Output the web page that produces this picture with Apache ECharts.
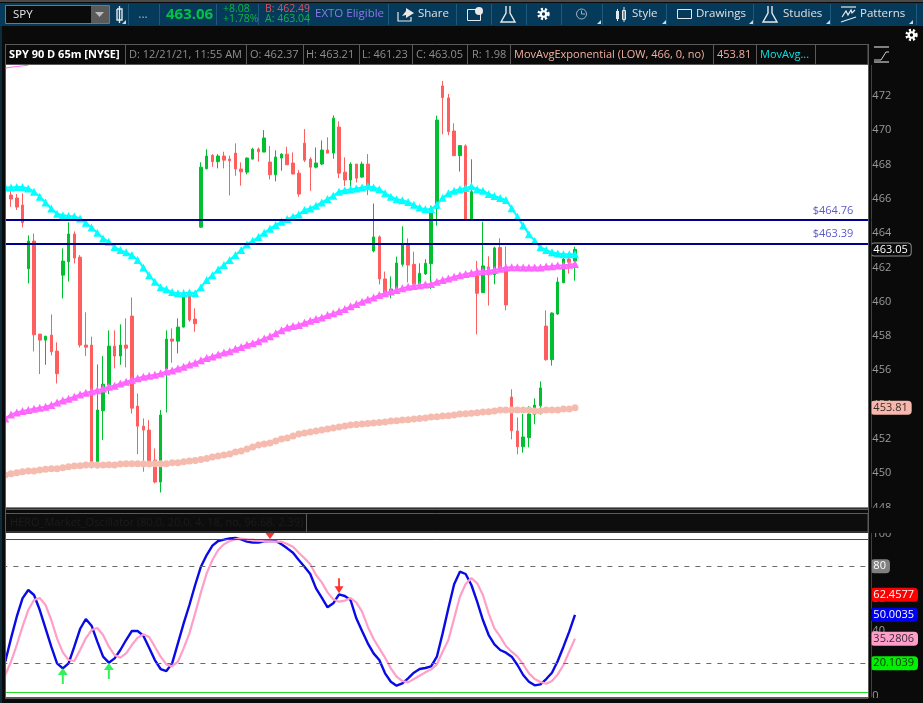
<!DOCTYPE html>
<html>
<head>
<meta charset="utf-8">
<title>SPY 90 D 65m</title>
<script src="https://cdn.jsdelivr.net/npm/echarts@6/dist/echarts.min.js"></script>
<style>
  html, body { margin: 0; padding: 0; background: #0a0a0a; }
  #chart { width: 923px; height: 703px; }
</style>
</head>
<body>
<div id="chart"></div>
<script>
// candles
const opens = [
  466.22,466.05,465.64,461.92,463.54,458.11,457.76,458.05,457.12,461.55,
  462.33,463.95,462.60,457.47,457.47,450.57,453.64,455.14,457.41,456.83,
  457.47,459.16,453.91,452.74,452.51,450.76,449.48,456.07,457.82,457.70,
  458.52,460.48,458.99,464.35,467.76,468.54,468.17,468.50,468.32,468.67,
  467.74,467.56,468.32,468.90,468.73,468.15,467.41,468.38,468.61,468.09,
  467.50,469.25,468.32,467.85,468.03,468.85,468.67,470.19,467.56,467.10,
  468.03,467.27,468.03,462.96,463.78,461.33,460.59,460.69,462.18,463.31,
  462.18,460.98,461.62,462.22,465.45,472.59,471.89,469.96,468.52,469.09,
  464.83,461.52,460.53,462.03,461.58,463.16,461.85,454.44,452.46,451.54,
  452.07,453.43,453.93,458.58,456.62,459.28,461.11,462.49,462.37
];
const closes = [
  465.99,465.52,464.61,463.54,458.07,457.76,457.99,457.08,455.80,462.37,
  463.95,462.55,457.47,457.35,450.57,453.68,455.19,457.41,456.83,457.47,
  457.29,453.79,452.74,452.51,450.66,449.48,453.39,457.82,457.70,458.52,
  460.48,458.93,458.71,467.85,468.50,468.17,468.50,468.26,468.22,467.74,
  467.58,468.38,468.90,468.75,469.55,467.41,468.44,468.61,467.99,467.45,
  466.28,468.26,467.85,468.09,468.85,468.67,470.71,467.50,467.10,468.03,
  467.21,468.03,466.61,463.78,461.33,460.43,460.74,462.26,463.31,462.14,
  461.02,461.66,462.24,465.45,470.60,471.91,469.92,468.52,469.11,464.83,
  466.42,460.49,462.09,461.56,463.14,461.76,459.81,452.48,451.54,452.11,
  453.45,453.97,454.97,456.62,459.34,461.15,462.49,462.30,463.05
];
const lows = [
  465.54,465.35,464.33,461.07,457.10,455.78,456.32,456.87,455.23,460.19,
  461.18,462.23,457.33,456.83,450.27,450.27,451.93,454.61,456.11,456.32,
  456.17,453.48,451.11,450.08,450.41,449.40,448.87,453.54,456.44,456.98,
  458.50,458.83,458.25,464.31,467.72,467.87,467.78,467.78,466.20,467.35,
  466.77,467.43,468.30,468.17,468.73,467.13,467.02,467.64,467.97,467.43,
  466.12,468.15,466.47,467.78,467.97,468.67,468.34,467.21,466.75,466.71,
  466.96,467.23,466.22,462.88,461.01,460.39,460.20,460.63,462.05,461.13,
  460.88,460.94,461.56,460.74,464.44,469.77,469.71,468.52,467.59,464.80,
  464.80,458.10,460.53,459.77,461.02,461.76,459.50,451.97,451.10,451.19,
  451.50,452.85,453.41,456.56,456.27,459.24,461.08,461.64,461.23
];
const highs = [
  466.51,466.28,466.32,463.87,463.98,458.11,457.99,459.26,457.63,463.11,
  464.63,464.10,462.72,459.38,457.96,456.34,456.83,458.33,458.33,458.68,
  459.03,460.25,454.65,453.19,453.09,451.44,453.68,458.33,458.44,459.03,
  460.70,460.60,459.61,468.13,468.89,468.61,468.61,468.75,468.52,469.24,
  468.13,468.42,468.98,469.00,470.01,469.08,468.83,468.67,469.04,468.71,
  467.68,470.07,468.42,469.00,469.41,469.59,470.87,470.52,468.42,468.13,
  468.03,468.17,468.61,465.73,463.87,461.76,461.48,462.63,464.40,463.70,
  462.92,462.24,462.48,465.60,470.86,472.88,472.12,470.41,469.11,469.18,
  468.31,462.38,464.67,462.65,463.21,463.70,463.23,454.89,453.25,453.45,
  453.92,454.36,455.35,459.50,459.38,461.42,462.60,462.55,463.21
];

// moving averages: these start one bar before the first visible candle
const cyanAvg = [
  466.67,466.67,466.69,466.69,466.61,466.42,466.12,465.79,465.44,465.13,
  465.04,465.00,464.98,464.86,464.61,464.33,464.02,463.69,463.50,463.19,
  463.01,462.88,462.72,462.43,462.00,461.55,461.16,460.85,460.72,460.56,
  460.50,460.50,460.54,460.50,460.85,461.26,461.55,461.88,462.14,462.43,
  462.72,463.01,463.34,463.56,463.77,464.02,464.26,464.47,464.67,464.82,
  464.96,465.09,465.35,465.44,465.60,465.79,465.99,466.18,466.42,466.51,
  466.55,466.61,466.67,466.73,466.67,466.56,466.33,466.13,465.98,465.92,
  465.82,465.65,465.49,465.39,465.41,465.65,466.07,466.33,466.48,466.56,
  466.64,466.73,466.56,466.48,466.29,466.17,466.05,465.94,465.45,464.96,
  464.44,463.93,463.56,463.18,463.02,462.88,462.81,462.77,462.77,462.77
];
const magentaAvg = [
  453.19,453.42,453.54,453.62,453.68,453.76,453.81,453.87,453.97,454.12,
  454.24,454.34,454.46,454.59,454.69,454.77,454.83,454.94,455.04,455.10,
  455.23,455.33,455.43,455.53,455.62,455.68,455.74,455.82,455.93,455.99,
  456.11,456.21,456.34,456.44,456.58,456.72,456.80,456.92,457.03,457.11,
  457.25,457.36,457.49,457.58,457.70,457.86,457.98,458.16,458.34,458.50,
  458.58,458.64,458.77,458.89,458.99,459.08,459.22,459.32,459.45,459.57,
  459.73,459.86,460.00,460.13,460.24,460.39,460.49,460.59,460.69,460.78,
  460.88,460.92,460.96,461.00,461.04,461.17,461.27,461.35,461.46,461.54,
  461.62,461.68,461.76,461.78,461.80,461.85,461.93,461.99,462.01,462.01,
  461.99,461.99,461.99,461.99,462.05,462.07,462.11,462.13,462.16,462.20
];
const salmonAvg = [
  449.89,449.96,450.02,450.08,450.12,450.12,450.18,450.22,450.26,450.26,
  450.31,450.37,450.41,450.43,450.47,450.49,450.47,450.47,450.49,450.47,
  450.53,450.55,450.55,450.55,450.53,450.53,450.55,450.55,450.55,450.60,
  450.60,450.66,450.70,450.74,450.80,450.86,450.94,451.00,451.05,451.11,
  451.23,451.29,451.40,451.52,451.64,451.70,451.76,451.87,451.99,452.05,
  452.16,452.28,452.34,452.40,452.45,452.51,452.57,452.63,452.69,452.75,
  452.81,452.84,452.86,452.89,452.92,452.95,452.98,453.04,453.06,453.10,
  453.12,453.16,453.19,453.21,453.27,453.29,453.33,453.35,453.39,453.45,
  453.46,453.50,453.52,453.56,453.58,453.62,453.68,453.68,453.68,453.68,
  453.68,453.68,453.62,453.62,453.68,453.68,453.68,453.74,453.74,453.81
];
// stray bit of an older magenta line at the top left corner
const cornerLine = [473.63, 473.68, 473.72, 473.76, 473.80];

// oscillator pane
const oscBlue = [
  21.02,35.45,48.85,60.19,65.34,62.25,52.97,41.64,30.30,19.99,
  16.90,19.99,30.30,41.22,47.41,43.29,33.39,24.12,20.40,23.08,
  28.24,34.42,39.99,39.99,37.10,29.68,22.05,16.49,15.25,19.99,
  32.36,44.73,56.07,68.44,79.77,86.99,92.76,95.65,96.47,97.30,
  97.50,96.68,95.23,94.62,94.62,95.44,95.65,95.65,93.59,91.11,
  88.43,83.90,79.77,75.24,66.37,60.60,54.62,57.10,62.66,61.63,
  59.16,47.82,39.99,32.36,26.18,22.05,13.81,8.65,6.18,7.62,
  10.72,14.22,16.49,17.11,18.14,24.12,38.54,54.01,68.85,76.68,
  75.24,68.44,58.13,46.79,37.51,31.74,28.24,26.59,24.12,18.96,
  12.78,8.65,6.39,7.01,10.30,14.22,21.44,30.30,39.58,50.00
];
const oscPink = [
  12.78,21.02,31.33,42.67,52.97,59.16,60.40,56.07,46.79,35.45,
  26.80,22.05,21.44,28.24,35.45,40.61,41.84,37.51,30.30,25.15,
  23.50,26.18,31.33,35.87,37.93,36.28,30.30,24.12,19.37,18.14,
  21.02,29.27,38.54,50.91,63.90,75.65,83.90,90.08,93.59,95.65,
  96.68,97.09,96.68,96.47,95.85,95.44,95.44,95.23,95.23,93.79,
  92.14,88.43,84.93,81.22,74.62,70.08,63.90,59.57,58.13,58.75,
  60.40,57.72,51.94,42.67,35.04,29.27,23.50,16.90,11.75,9.07,
  8.24,10.30,12.37,14.43,16.28,19.37,27.21,34.42,47.82,61.22,
  69.05,72.77,69.47,62.25,50.91,41.64,36.48,30.71,27.21,24.12,
  19.37,13.81,10.30,8.45,7.42,9.07,13.19,18.96,27.21,35.28
];
const buySignals = [[10, 12.2], [18, 15.25]];
const sellArrows = [[58, 68.0]];
const sellTriangles = [[46, 98.7]];

const priceLevels = [464.76, 463.39];
const priceTicksMin = 448, priceTicksMax = 473.81;
const oscTicks = [0, 20, 40, 60, 80, 100];
const slots = Array.from({ length: 151 }, (_, i) => i);

const UI_FONT = '"Open Sans", "Noto Sans", sans-serif';
const candleData = [['-', '-', '-', '-']].concat(
  opens.map((o, i) => [o, closes[i], lows[i], highs[i]])
);

// a coloured price tag in the right hand column, placed by the axis
const makeTag = (value, text, bg, fg, border) => ({
  yAxis: value,
  lineStyle: { color: 'transparent', width: 0 },
  label: {
    show: true, position: 'end', distance: 0, formatter: text, color: fg, opacity: 1,
    backgroundColor: bg, borderColor: border || bg, borderWidth: 1,
    borderRadius: 3, padding: [1, 3, 0, 2], fontFamily: UI_FONT, fontSize: 11
  }
});
const makeLevel = (value, color, width, type) => ({
  yAxis: value, lineStyle: { color, width, type }, label: { show: false }
});

// page furniture
const rect = (x, y, w, h, fill, stroke, z) => ({
  type: 'rect', shape: { x, y, width: w, height: h, r: 0 },
  style: { fill, stroke: stroke || null, lineWidth: 1 }, z: z || 50, silent: true
});
const txt = (x, y, text, fill, size, weight, align) => ({
  type: 'text', x, y, z: 60, silent: true,
  style: {
    text, fill, textAlign: align || 'left', textVerticalAlign: 'middle',
    font: (weight || 'normal') + ' ' + size + 'px ' + UI_FONT
  }
});
const vline = (x, y1, y2, color) => ({
  type: 'line', z: 55, silent: true,
  shape: { x1: x + 0.5, y1, x2: x + 0.5, y2 }, style: { stroke: color, lineWidth: 1 }
});
const poly = (points, stroke, width, fill) => ({
  type: 'polyline', z: 60, silent: true, shape: { points },
  style: { stroke, lineWidth: width || 1, fill: fill || null }
});
const gon = (points, fill) => ({
  type: 'polygon', z: 60, silent: true, shape: { points }, style: { fill }
});
const gear = (x, y, r) => [
  { type: 'circle', z: 60, silent: true, shape: { cx: x, cy: y, r: r * 0.85 },
    style: { fill: null, stroke: '#fff', lineWidth: r * 0.55, lineDash: [2, 1.8] } },
  { type: 'circle', z: 61, silent: true, shape: { cx: x, cy: y, r: r * 0.5 },
    style: { fill: null, stroke: '#fff', lineWidth: r * 0.4 } }
];
const flask = (x) => poly([[x - 2, 6], [x - 2, 13], [x - 7, 22], [x + 7, 22], [x + 2, 13], [x + 2, 6]], '#e8e8e8', 1.4);
const corner = (x) => gon([[x, 24], [x + 4, 24], [x + 4, 20]], '#cfd8de');

const TOOLBAR = '#063a5b', DIV = '#1e5a7e', BLACK = '#0a0a0a', EDGE = '#5a5a5a';
const cellDividers = [125, 246, 303, 359, 412, 467, 510, 713, 756, 815];
const toolDividers = [128, 159, 216, 258, 308, 388, 456, 491, 526, 561, 602, 666, 753, 830, 916];

const furniture = [
  // masks around the two panes
  rect(0, 0, 923, 65, BLACK),
  rect(0, 0, 6, 703, BLACK),
  rect(868, 65, 3.4, 443, BLACK),
  rect(868, 533, 3.4, 165, BLACK),
  rect(0, 508, 923, 25, BLACK),
  rect(0, 698, 923, 5, BLACK),
  // toolbar
  rect(0, 0, 923, 2, '#4a4a4a'),
  rect(0, 3, 923, 23, TOOLBAR),
  rect(0, 26, 2, 677, '#0c2c3c'),
  rect(5.5, 5.5, 104, 18, BLACK, '#6a7a84', 52),
  rect(91, 6, 18, 17, '#5a5a5a', null, 53),
  gon([[95, 12], [104, 12], [99.5, 17]], '#bbb'),
  txt(13, 15, 'SPY', '#e6e6e6', 11.5),
  poly([[117, 9], [117, 20], [122, 20], [122, 9], [117, 9]], '#e6e6e6', 1.4),
  poly([[119.5, 6], [119.5, 23]], '#e6e6e6', 1.4),
  corner(122),
  txt(143, 15, '...', '#9fb2bf', 12, 'normal', 'center'),
  txt(166, 15, '463.06', '#00c244', 15, 'bold'),
  txt(223, 9, '+8.08', '#10b545', 10.5),
  txt(223, 19, '+1.78%', '#10b545', 10.5),
  txt(265, 9, 'B: 462.49', '#d9535f', 10.5),
  txt(265, 19, 'A: 463.04', '#10b545', 10.5),
  txt(315, 14, 'EXTO Eligible', '#8d78e6', 11.5),
  poly([[398, 12], [398, 21], [411, 21], [411, 17]], '#e8e8e8', 1.2),
  gon([[402, 16], [406, 11], [406, 8], [414, 13], [406, 18], [406, 15]], '#e8e8e8'),
  txt(418, 14, 'Share', '#e0e0e0', 11.5),
  rect(467.5, 9.5, 13, 11, null, '#e8e8e8', 60),
  { type: 'circle', z: 61, silent: true, shape: { cx: 479, cy: 11, r: 4 }, style: { fill: '#e8e8e8' } },
  flask(508),
  ...gear(543.5, 14, 5.5),
  { type: 'circle', z: 60, silent: true, shape: { cx: 581.5, cy: 14, r: 5 }, style: { fill: null, stroke: '#9fb2bf', lineWidth: 1 } },
  poly([[581.5, 10.5], [581.5, 14], [585, 14]], '#9fb2bf', 1),
  corner(597),
  rect(616, 11, 3, 8, '#e8e8e8', null, 60),
  poly([[617.5, 9], [617.5, 21]], '#e8e8e8', 1),
  rect(622.5, 10.5, 3, 9, null, '#e8e8e8', 60),
  poly([[624, 7], [624, 22]], '#e8e8e8', 1),
  txt(632, 14, 'Style', '#e0e0e0', 11.5),
  corner(662),
  rect(677.5, 9.5, 14, 9, null, '#e8e8e8', 60),
  txt(696, 14, 'Drawings', '#e0e0e0', 11.5),
  corner(749),
  flask(770),
  txt(783, 14, 'Studies', '#e0e0e0', 11.5),
  corner(826),
  poly([[841, 7], [856, 7]], '#e8e8e8', 1.2),
  poly([[842, 17], [846, 11], [848, 15], [851, 10], [852, 13], [855, 10]], '#e8e8e8', 1.2),
  poly([[841, 22], [856, 17]], '#e8e8e8', 1.2),
  txt(860, 14, 'Patterns', '#e0e0e0', 11.5),
  corner(909),
  // top right gear and the curve button
  ...gear(911.5, 35, 5.5),
  poly([[874, 47], [889, 47]], '#d0d0d0', 1.2),
  poly([[874, 60], [881, 60], [886, 52], [889, 52]], '#d0d0d0', 1),
  poly([[874, 62], [889, 62]], '#d0d0d0', 1.2),
  // study header row
  rect(5.5, 44.5, 862.5, 20, BLACK, EDGE, 52),
  txt(9, 54.5, 'SPY 90 D 65m [NYSE]', '#ffffff', 11, 'bold'),
  txt(129, 54.5, 'D: 12/21/21, 11:55 AM', '#8e8e8e', 11),
  txt(250, 54.5, 'O: 462.37', '#8e8e8e', 11),
  txt(306, 54.5, 'H: 463.21', '#8e8e8e', 11),
  txt(362, 54.5, 'L: 461.23', '#8e8e8e', 11),
  txt(416, 54.5, 'C: 463.05', '#8e8e8e', 11),
  txt(472, 54.5, 'R: 1.98', '#8e8e8e', 11),
  txt(514, 54.5, 'MovAvgExponential (LOW, 466, 0, no)', '#f0b0a0', 11),
  txt(717, 54.5, '453.81', '#f0b0a0', 11),
  txt(760, 54.5, 'MovAvg...', '#00e5e5', 11),
  // oscillator header row
  rect(5.5, 509, 862.5, 0.5, EDGE, EDGE, 52),
  rect(5.5, 513.5, 862.5, 18.5, '#0d0d0d', EDGE, 52),
  vline(306, 513, 532, EDGE),
  txt(10, 523, 'HERO_Market_Oscillator (80.0, 20.0, 4, 18, no, 96.68, 2.39)', '#1c1c1c', 11),
  // pane edges
  vline(5, 44, 698, EDGE),
  vline(868, 44, 698, EDGE),
  rect(5.5, 697.5, 862.5, 1, EDGE, EDGE, 52)
].concat(cellDividers.map((x) => vline(x, 45, 64, EDGE)))
 .concat(toolDividers.map((x) => vline(x, 4, 25, DIV)));

const chart = echarts.init(document.getElementById('chart'));
chart.setOption({
  animation: false,
  backgroundColor: BLACK,
  grid: [
    { left: 2.37, top: 65, width: 869, height: 442.4, show: true, backgroundColor: '#fff', borderWidth: 0 },
    { left: 2.37, top: 533, width: 869, height: 164.3, show: true, backgroundColor: '#fff', borderWidth: 0 }
  ],
  xAxis: [
    { type: 'category', gridIndex: 0, data: slots, boundaryGap: true, axisLine: { show: false }, axisTick: { show: false }, axisLabel: { show: false }, splitLine: { show: false } },
    { type: 'category', gridIndex: 1, data: slots, boundaryGap: true, axisLine: { show: false }, axisTick: { show: false }, axisLabel: { show: false }, splitLine: { show: false } }
  ],
  yAxis: [
    {
      type: 'value', gridIndex: 0, position: 'right', scale: true,
      min: priceTicksMin, max: priceTicksMax, interval: 2,
      axisLine: { show: false }, axisTick: { show: false }, splitLine: { show: false },
      axisLabel: { color: '#9a9a9a', fontFamily: UI_FONT, fontSize: 11, margin: 1, showMaxLabel: false, padding: [3, 0, 0, 0] }
    },
    {
      type: 'value', gridIndex: 1, position: 'right', min: -1, max: 100.6,
      axisLine: { show: false }, axisTick: { show: false }, splitLine: { show: false },
      axisLabel: { color: '#9a9a9a', fontFamily: UI_FONT, fontSize: 11, margin: 1, customValues: oscTicks }
    }
  ],
  series: [
    {
      name: 'SPY', type: 'candlestick', xAxisIndex: 0, yAxisIndex: 0, data: candleData, barWidth: 3,
      itemStyle: { color: '#00c030', color0: '#ff5e5e', borderColor: '#00c030', borderColor0: '#ff5e5e', borderWidth: 1 }
    },
    {
      name: 'corner', type: 'line', xAxisIndex: 0, yAxisIndex: 0, data: cornerLine, showSymbol: false,
      lineStyle: { color: '#ff66ff', width: 1 }
    },
    {
      name: 'salmon', type: 'line', xAxisIndex: 0, yAxisIndex: 0, data: salmonAvg,
      symbol: 'circle', symbolSize: 7, showAllSymbol: true, color: '#f6bbaf',
      lineStyle: { color: '#f6bbaf', width: 2 }
    },
    {
      name: 'magenta', type: 'line', xAxisIndex: 0, yAxisIndex: 0, data: magentaAvg,
      symbol: 'triangle', symbolSize: 8, showAllSymbol: true, color: '#ff66ff',
      lineStyle: { color: '#ff66ff', width: 2 }
    },
    {
      name: 'cyan', type: 'line', xAxisIndex: 0, yAxisIndex: 0, data: cyanAvg,
      symbol: 'triangle', symbolSize: 8, showAllSymbol: true, color: '#00ffff',
      lineStyle: { color: '#00ffff', width: 2 },
      markLine: {
        silent: true, symbol: 'none', animation: false,
        data: priceLevels.map((v) => ({
          yAxis: v,
          lineStyle: { color: '#000090', width: 2, type: 'solid' },
          label: {
            show: true, position: 'insideEndTop', distance: [18, 4], formatter: '$' + v.toFixed(2),
            color: '#5a5ac8', fontFamily: UI_FONT, fontSize: 11
          }
        })).concat([
          makeTag(463.05, '463.05', BLACK, '#ffffff', '#8a8a8a'),
          makeTag(453.81, '453.81', '#f6b8ac', '#3a2a2a')
        ])
      }
    },
    {
      name: 'osc pink', type: 'line', xAxisIndex: 1, yAxisIndex: 1, data: oscPink, showSymbol: false,
      lineStyle: { color: '#ff9ec8', width: 2.2 }, z: 3
    },
    {
      name: 'osc blue', type: 'line', xAxisIndex: 1, yAxisIndex: 1, data: oscBlue, showSymbol: false,
      lineStyle: { color: '#0a0ae6', width: 2.4 }, z: 2,
      markLine: {
        silent: true, symbol: 'none', animation: false,
        data: [
          makeLevel(96.68, '#ff0000', 1, 'solid'),
          makeLevel(80, '#6a6a6a', 1, [5, 6]),
          makeLevel(20, '#6a6a6a', 1, [5, 6]),
          makeLevel(2.39, '#22dd22', 1, 'solid'),
          makeTag(80, '80', '#808080', '#ffffff'),
          makeTag(62.4577, '62.4577', '#ff0000', '#ffffff'),
          makeTag(50.0035, '50.0035', '#0000f0', '#ffffff'),
          makeTag(35.2806, '35.2806', '#ff9ec8', '#3a2a3a'),
          makeTag(20.1039, '20.1039', '#00f000', '#103010')
        ]
      }
    },
    {
      name: 'buy', type: 'scatter', xAxisIndex: 1, yAxisIndex: 1, data: buySignals, z: 4,
      symbol: 'path://M5 0 L10 7 L6 7 L6 16 L4 16 L4 7 L0 7 Z', symbolSize: [10, 16], itemStyle: { color: '#00ee33' }
    },
    {
      name: 'sell', type: 'scatter', xAxisIndex: 1, yAxisIndex: 1, data: sellArrows, z: 4,
      symbol: 'path://M4 0 L6 0 L6 8 L10 8 L5 15 L0 8 L4 8 Z', symbolSize: [9, 15], itemStyle: { color: '#ff0000' }
    },
    {
      name: 'sell top', type: 'scatter', xAxisIndex: 1, yAxisIndex: 1, data: sellTriangles, z: 4,
      symbol: 'path://M0 0 L10 0 L5 7 Z', symbolSize: [9, 6], itemStyle: { color: '#ff0000' }
    }
  ],
  graphic: { elements: furniture }
});
</script>
</body>
</html>
